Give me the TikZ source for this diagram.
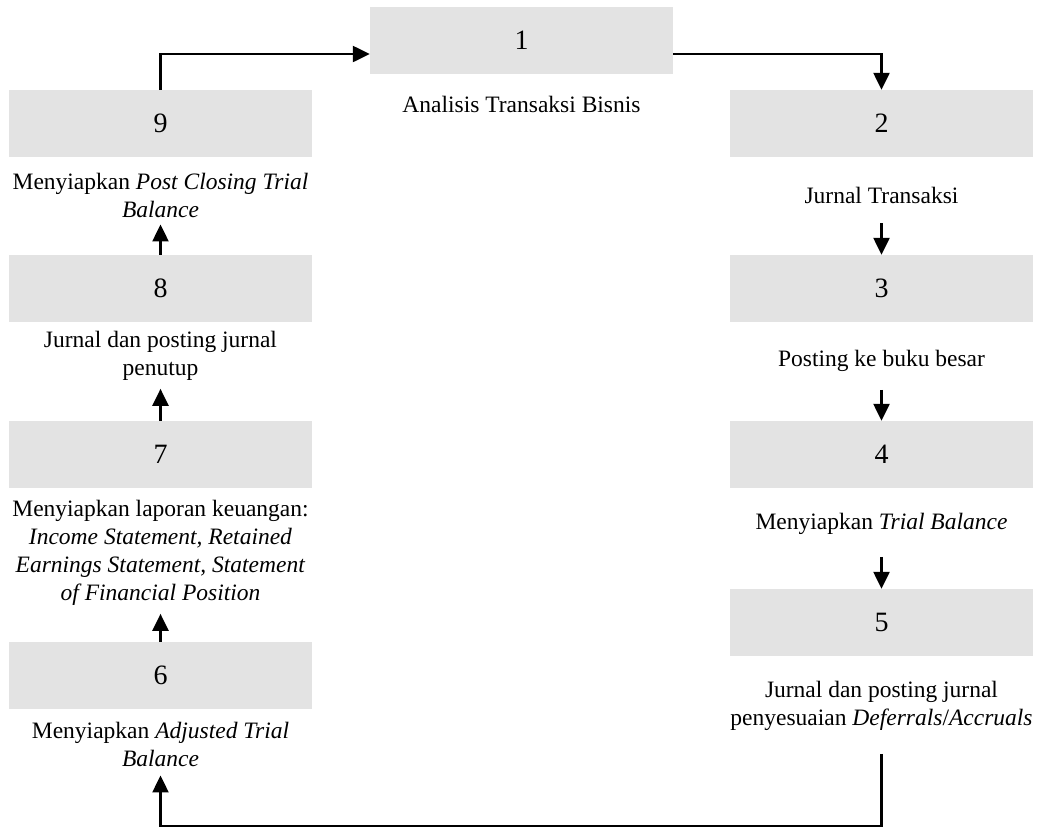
\documentclass[tikz,border=0pt]{standalone}
\usepackage{fontspec}
\setmainfont{Liberation Serif}
\usetikzlibrary{arrows.meta,positioning}
\definecolor{stepgray}{RGB}{227,227,227}

\begin{document}
\begin{tikzpicture}[x=1pt, y=-1pt, >={Triangle[length=17pt,width=16pt]},
    font=\fontsize{23.5}{28}\selectfont,
    stepbox/.style={fill=stepgray, minimum width=303pt, minimum height=67pt, inner sep=0pt,
        font=\fontsize{28}{32}\selectfont},
    caption/.style={align=center, inner sep=0pt},
    flow/.style={->, line width=2.4pt}]
    \useasboundingbox (0,0) rectangle (1039,828);

    % Langkah-langkah siklus
    \node[stepbox] (b1) at (521.5,40)    {1};
    \node[stepbox] (b2) at (881.5,123.5) {2};
    \node[stepbox] (b3) at (881.5,288.5) {3};
    \node[stepbox] (b4) at (881.5,454.5) {4};
    \node[stepbox] (b5) at (881.5,622.5) {5};
    \node[stepbox] (b6) at (160.5,675.5) {6};
    \node[stepbox] (b7) at (160.5,454.5) {7};
    \node[stepbox] (b8) at (160.5,288.5) {8};
    \node[stepbox] (b9) at (160.5,123.5) {9};

    % Keterangan
    \node[caption] (l1) at (521.5,104) {Analisis Transaksi Bisnis};
    \node[caption] (l2) at (881.5,195) {Jurnal Transaksi};
    \node[caption] (l3) at (881.5,361) {Posting ke buku besar};
    \node[caption] (l4) at (881.5,524) {Menyiapkan \textit{Trial Balance}};
    \node[caption] (l5) at (881.5,706) {Jurnal dan posting jurnal\\penyesuaian \textit{Deferrals}/\textit{Accruals}};
    \node[caption] (l6) at (160.5,744) {Menyiapkan \textit{Adjusted Trial}\\\textit{Balance}};
    \node[caption] (l7) at (160.5,553) {Menyiapkan laporan keuangan:\\\textit{Income Statement, Retained}\\\textit{Earnings Statement, Statement}\\\textit{of Financial Position}};
    \node[caption] (l8) at (160.5,356) {Jurnal dan posting jurnal\\penutup};
    \node[caption] (l9) at (160.5,195) {Menyiapkan \textit{Post Closing Trial}\\\textit{Balance}};

    % Panah
    \draw[flow] ([yshift=-14pt]b1.east) -| (b2.north);
    \draw[flow] ([yshift=-20pt]l2.south) -- (b3.north);
    \draw[flow] ([yshift=-18pt]l3.south) -- (b4.north);
    \draw[flow] ([yshift=-22pt]l4.south) -- (b5.north);
    \draw[flow] ([yshift=-23pt]l5.south) |- (160.5,826) -- ([yshift=-9pt]l6.south);
    \draw[flow] (b6.north) -- ([yshift=-8pt]l7.south);
    \draw[flow] (b7.north) -- ([yshift=-8pt]l8.south);
    \draw[flow] (b8.north) -- ([yshift=-7pt]l9.south);
    \draw[flow] (b9.north) |- ([yshift=-14pt]b1.west);
\end{tikzpicture}
\end{document}
